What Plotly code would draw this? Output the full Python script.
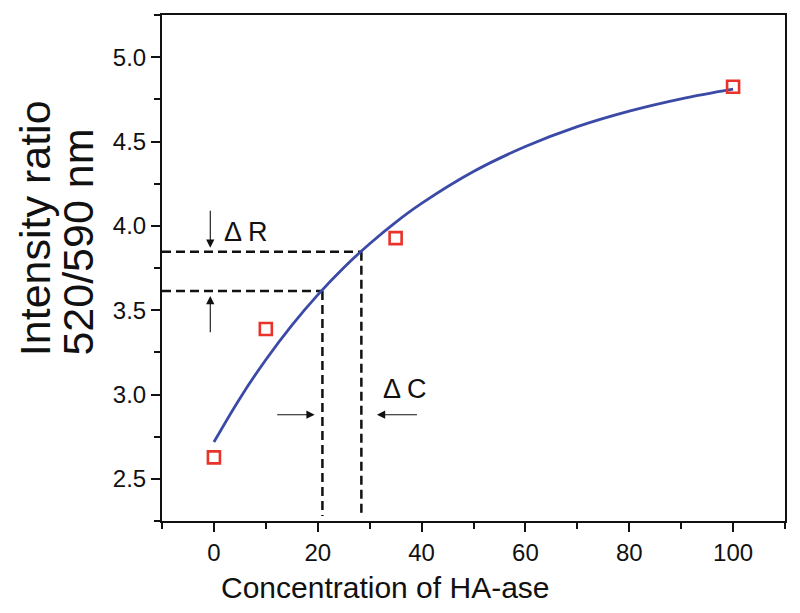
import plotly.graph_objects as go

# measured data points
conc = [0, 10, 35, 100]
ratio = [2.627, 3.388, 3.927, 4.825]

# fitted curve
curve_x = [0, 5, 10, 15, 20, 25, 30, 35, 40, 50, 60, 70, 80, 90, 100]
curve_y = [2.718, 2.977, 3.206, 3.410, 3.591, 3.752, 3.894, 4.021, 4.133,
           4.322, 4.470, 4.588, 4.680, 4.753, 4.810]

# guide lines (ΔC / ΔR construction)
guide_c = [20.9, 28.4]
guide_r = [3.614, 3.846]

x_ticks = [0, 20, 40, 60, 80, 100]
y_ticks = [2.5, 3.0, 3.5, 4.0, 4.5, 5.0]
x_range = [-10, 110]
y_range = [2.25, 5.25]

FONT = "Liberation Sans, Arial, Helvetica, sans-serif"
INK = "#111111"

fig = go.Figure()

dash_style = dict(color=INK, width=2.5, dash="9px,5px")
for c, r in zip(guide_c, guide_r):
    fig.add_trace(go.Scatter(x=[x_range[0], c], y=[r, r], mode="lines",
                             line=dash_style, showlegend=False, hoverinfo="skip"))
    fig.add_trace(go.Scatter(x=[c, c], y=[r, y_range[0] + 0.03], mode="lines",
                             line=dash_style, showlegend=False, hoverinfo="skip"))

fig.add_trace(go.Scatter(x=curve_x, y=curve_y, mode="lines",
                         line=dict(color="#3b4aa6", width=2.8, shape="spline", smoothing=1.0),
                         showlegend=False))
fig.add_trace(go.Scatter(x=conc, y=ratio, mode="markers",
                         marker=dict(symbol="square-open", size=12, color="#e8322a",
                                     line=dict(width=2.6, color="#e8322a")),
                         showlegend=False))

arrow_common = dict(showarrow=True, text="", arrowhead=2, arrowsize=1.5, arrowwidth=1.1,
                    arrowcolor=INK, xref="x", yref="y", axref="x", ayref="y", standoff=0)
# ΔR arrows
fig.add_annotation(x=-0.7, y=3.87, ax=-0.7, ay=4.098, **arrow_common)
fig.add_annotation(x=-0.7, y=3.584, ax=-0.7, ay=3.36, **arrow_common)
# ΔC arrows
fig.add_annotation(x=19.4, y=2.88, ax=11.9, ay=2.88, **arrow_common)
fig.add_annotation(x=31.4, y=2.88, ax=39.4, ay=2.88, **arrow_common)

fig.add_annotation(x=6.2, y=3.964, text="Δ R", showarrow=False, xref="x", yref="y",
                   font=dict(family=FONT, size=27, color=INK))
fig.add_annotation(x=36.9, y=3.035, text="Δ C", showarrow=False, xref="x", yref="y",
                   font=dict(family=FONT, size=27, color=INK))

# axis titles as annotations
fig.add_annotation(x=0.358, y=-0.132, xref="paper", yref="paper", showarrow=False,
                   text="Concentration of HA-ase", xanchor="center", yanchor="middle",
                   font=dict(family=FONT, size=30, color=INK))
fig.add_annotation(x=-0.2039, y=0.5787, xref="paper", yref="paper", showarrow=False,
                   text="Intensity ratio", textangle=-90, xanchor="center", yanchor="middle",
                   font=dict(family=FONT, size=43, color=INK))
fig.add_annotation(x=-0.1348, y=0.5502, xref="paper", yref="paper", showarrow=False,
                   text="520/590 nm", textangle=-90, xanchor="center", yanchor="middle",
                   font=dict(family=FONT, size=43, color=INK))

axis_common = dict(showline=True, linewidth=2, linecolor=INK, mirror=True,
                   ticks="outside", ticklen=9, tickwidth=2, tickcolor=INK,
                   showgrid=False, zeroline=False,
                   tickfont=dict(family=FONT, size=24, color=INK))

fig.update_xaxes(range=x_range, tickvals=x_ticks, ticktext=[str(v) for v in x_ticks],
                 minor=dict(dtick=10, tick0=0, ticklen=6, tickwidth=2, tickcolor=INK,
                            ticks="outside"),
                 **axis_common)
fig.update_yaxes(range=y_range, tickvals=y_ticks, ticktext=[f"{v:.1f}" for v in y_ticks],
                 minor=dict(dtick=0.25, tick0=0, ticklen=6, tickwidth=2, tickcolor=INK,
                            ticks="outside"),
                 **axis_common)

# the page body has an 8px default margin, so the figure is sized to fit inside it
fig.update_layout(width=784, height=597, margin=dict(l=154, r=7, t=5, b=84),
                  plot_bgcolor="white", paper_bgcolor="white",
                  font=dict(family=FONT, color=INK))

fig.write_html("out.html")
